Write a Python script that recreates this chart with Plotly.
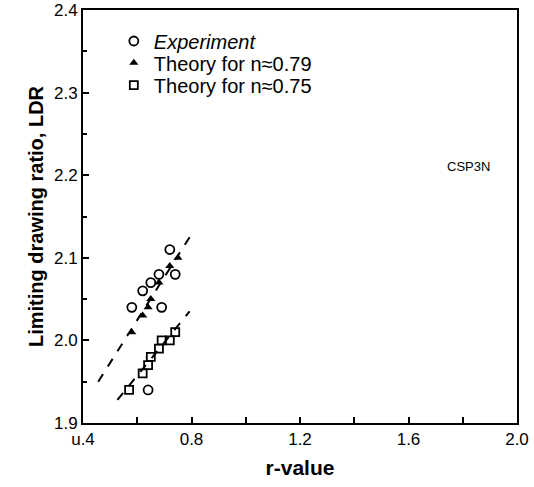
import plotly.graph_objects as go

# Experiment (circles)
exp_r = [0.72, 0.74, 0.68, 0.65, 0.62, 0.58, 0.69, 0.64]
exp_ldr = [2.11, 2.08, 2.08, 2.07, 2.06, 2.04, 2.04, 1.94]

# Theory n=0.79 (filled triangles)
t79_r = [0.58, 0.62, 0.64, 0.65, 0.68, 0.72, 0.75]
t79_ldr = [2.01, 2.03, 2.04, 2.05, 2.07, 2.09, 2.10]

# Theory n=0.75 (open squares)
t75_r = [0.57, 0.62, 0.64, 0.65, 0.68, 0.69, 0.72, 0.74]
t75_ldr = [1.94, 1.96, 1.97, 1.98, 1.99, 2.00, 2.00, 2.01]

# Dashed fit lines (end points)
fit79_r = [0.456, 0.795]
fit79_ldr = [1.950, 2.126]
fit75_r = [0.527, 0.793]
fit75_ldr = [1.928, 2.035]

x_tickvals = [0.4, 0.8, 1.2, 1.6, 2.0]
x_ticktext = ["u.4", "0.8", "1.2", "1.6", "2.0"]
y_tickvals = [1.9, 2.0, 2.1, 2.2, 2.3, 2.4]
y_ticktext = ["1.9", "2.0", "2.1", "2.2", "2.3", "2.4"]

FONT = "Liberation Sans, Arial, sans-serif"
LEG_FONT = dict(family=FONT, size=20, color="black")

fig = go.Figure()
fig.add_trace(go.Scatter(x=fit79_r, y=fit79_ldr, mode="lines",
                         line=dict(color="black", width=2, dash="dash"),
                         showlegend=False, hoverinfo="skip"))
fig.add_trace(go.Scatter(x=fit75_r, y=fit75_ldr, mode="lines",
                         line=dict(color="black", width=2, dash="dash"),
                         showlegend=False, hoverinfo="skip"))
fig.add_trace(go.Scatter(x=exp_r, y=exp_ldr, mode="markers", name="<i>Experiment</i>",
                         legend="legend",
                         marker=dict(symbol="circle-open", size=9, color="black",
                                     line=dict(width=1.8, color="black"))))
fig.add_trace(go.Scatter(x=t79_r, y=t79_ldr, mode="markers", name="Theory for n≈0.79",
                         legend="legend2",
                         marker=dict(symbol="triangle-up", size=8, color="black")))
fig.add_trace(go.Scatter(x=t75_r, y=t75_ldr, mode="markers", name="Theory for n≈0.75",
                         legend="legend3",
                         marker=dict(symbol="square-open", size=8, color="black",
                                     line=dict(width=1.8, color="black"))))

fig.add_annotation(x=1.82, y=2.21, text="CSP3N", showarrow=False,
                   font=dict(family=FONT, size=13, color="black"))

def leg(y):
    return dict(x=0.071, y=y, xanchor="left", yanchor="middle",
                bgcolor="rgba(0,0,0,0)", font=LEG_FONT, itemwidth=30)

fig.update_layout(
    width=534, height=487,
    margin=dict(l=83, r=17, t=10, b=64, autoexpand=False),
    plot_bgcolor="white", paper_bgcolor="white",
    font=dict(family=FONT, color="black"),
    legend=leg(0.925), legend2=leg(0.872), legend3=leg(0.818),
    xaxis=dict(range=[0.4, 2.0], tickvals=x_tickvals, ticktext=x_ticktext,
               ticks="inside", ticklen=6, tickwidth=1.5, tickcolor="black",
               minor=dict(ticks="inside", dtick=0.2, tick0=0.4, ticklen=6, tickwidth=1.5, tickcolor="black"),
               showline=True, linecolor="black", linewidth=2, mirror=True,
               showgrid=False, zeroline=False, automargin=False,
               tickfont=dict(family=FONT, size=17, color="black"),
               title=dict(text="<b>r-value</b>", font=dict(family=FONT, size=21, color="black"), standoff=12)),
    yaxis=dict(range=[1.9, 2.4], tickvals=y_tickvals, ticktext=y_ticktext,
               ticks="inside", ticklen=6, tickwidth=1.5, tickcolor="black",
               minor=dict(ticks="inside", dtick=0.05, tick0=1.9, ticklen=4, tickwidth=1.5, tickcolor="black"),
               showline=True, linecolor="black", linewidth=2, mirror=True,
               showgrid=False, zeroline=False, automargin=False,
               tickfont=dict(family=FONT, size=17, color="black"),
               title=dict(text="<b>Limiting drawing ratio, LDR</b>", font=dict(family=FONT, size=20, color="black"), standoff=5)),
)

fig.write_html("out.html")
